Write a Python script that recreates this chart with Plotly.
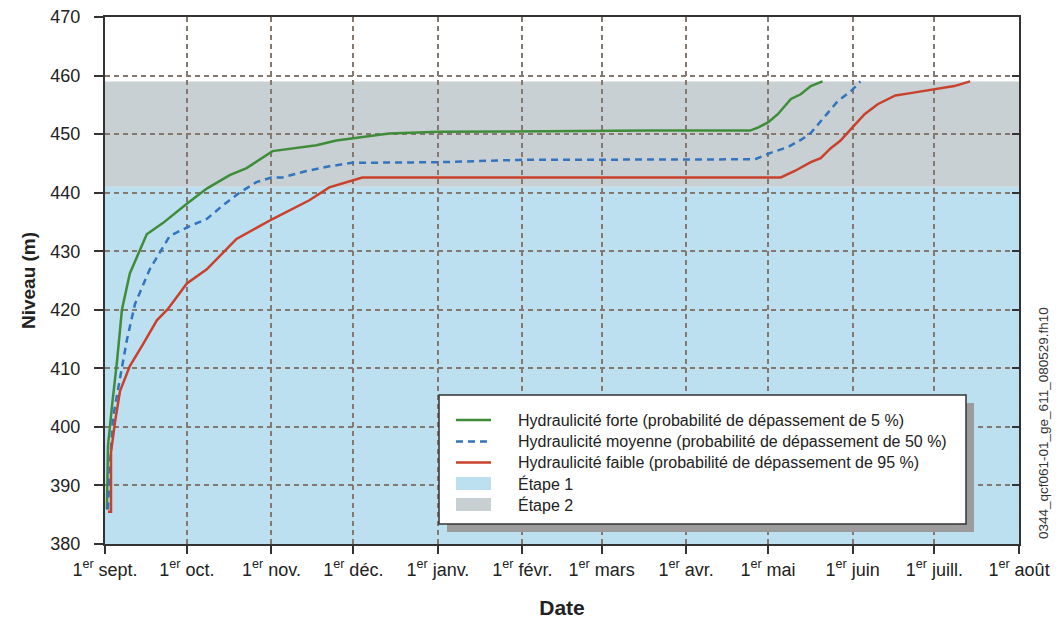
import pandas as pd
import plotly.graph_objects as go

# ---- data (days since 1 Sept, level in m) ----
start_date = "2007-09-01"

forte_days = [0.7, 1.1, 2.6, 4.4, 6.2, 9.1, 15.3, 21.2, 30, 37.3, 45.7, 51.9, 61.4, 70.2, 77.5,
              84.8, 92.1, 104.1, 122.4, 150, 200, 236.4, 239.3, 243, 246.6, 251.4, 255, 258.7, 262, 263]
forte_level = [385.9, 396.8, 403.7, 411.2, 420.0, 426.2, 432.9, 434.8, 438.1, 440.7, 443.0, 444.2,
               447.1, 447.6, 448.1, 448.9, 449.4, 450.1, 450.4, 450.5, 450.6, 450.6, 451.1, 452.0,
               453.4, 456.0, 456.8, 458.2, 458.9, 459.0]

moyenne_days = [1.1, 1.8, 2.9, 5.5, 8.0, 11, 16.4, 23.7, 31.1, 37.3, 43.1, 49.3, 55.5, 61, 65, 73.8,
                82.2, 90.6, 104.1, 122.4, 151.6, 200, 238.2, 244, 250.3, 255, 258.7, 263.8, 268.5,
                273.3, 276.9]
moyenne_level = [385.9, 393.3, 401.5, 408.4, 414.8, 421.0, 426.9, 432.6, 434.3, 435.5, 437.8, 440.0,
                 441.8, 442.6, 442.6, 443.7, 444.5, 445.1, 445.1, 445.2, 445.6, 445.7, 445.7, 446.8,
                 447.8, 449.0, 450.2, 453.0, 455.6, 457.3, 459.0]

faible_days = [1.1, 2.2, 2.2, 3.7, 5.5, 9.1, 13.9, 19, 23, 26.3, 30, 37.3, 48.2, 61.4, 74.9, 82.2,
               90.6, 94.3, 247.7, 252.8, 258.7, 262.3, 266, 269.6, 273.3, 278.4, 283.2, 289.7,
               295.2, 302.5, 311.3, 317.1]
faible_level = [385.5, 385.5, 395.7, 400.9, 406.1, 410.4, 414.1, 418.2, 420.1, 422.2, 424.5, 426.9,
                432.1, 435.5, 438.7, 440.9, 442.1, 442.6, 442.6, 443.7, 445.2, 445.9, 447.6, 448.9,
                450.8, 453.4, 455.1, 456.6, 457.0, 457.5, 458.2, 459.0]

etape1_range = [380, 441]
etape2_range = [441, 459]

month_ticks = ["2007-09-01", "2007-10-01", "2007-11-01", "2007-12-01", "2008-01-01", "2008-02-01",
               "2008-03-01", "2008-04-01", "2008-05-01", "2008-06-01", "2008-07-01", "2008-08-01"]
month_labels = ["sept.", "oct.", "nov.", "déc.", "janv.", "févr.", "mars", "avr.", "mai", "juin",
                "juill.", "août"]
y_ticks = [380, 390, 400, 410, 420, 430, 440, 450, 460, 470]

series_names = ["Hydraulicité forte (probabilité de dépassement de 5 %)",
                "Hydraulicité moyenne (probabilité de dépassement de 50 %)",
                "Hydraulicité faible (probabilité de dépassement de 95 %)"]
band_names = ["Étape 1", "Étape 2"]

# ---- helpers ----
base = pd.Timestamp(start_date)


def to_dates(days):
    return [base + pd.to_timedelta(d, unit="D") for d in days]


# plot area in pixels (for paper-coordinate placement of decorations)
L, R, T, B = 105, 41, 17, 79
W, H = 1060, 623
PW, PH = W - L - R, H - T - B


def px(x):
    return (x - L) / PW


def py(y):
    return (H - B - y) / PH


GREEN = "#3f8c3a"
BLUE = "#3473bd"
RED = "#c9412c"
BAND1 = "#bde0f1"
BAND2 = "#c8d0d3"
GRID = "#85796f"
FONT = "Liberation Sans, Arial, sans-serif"
BLUE_DASH = "7px,5px"

fig = go.Figure()

fig.add_trace(go.Scatter(x=to_dates(forte_days), y=forte_level, mode="lines",
                         name=series_names[0], line=dict(color=GREEN, width=2.5), showlegend=False))
fig.add_trace(go.Scatter(x=to_dates(moyenne_days), y=moyenne_level, mode="lines",
                         name=series_names[1], line=dict(color=BLUE, width=2.5, dash=BLUE_DASH),
                         showlegend=False))
fig.add_trace(go.Scatter(x=to_dates(faible_days), y=faible_level, mode="lines",
                         name=series_names[2], line=dict(color=RED, width=2.5), showlegend=False))
# invisible trace to activate the right-hand tick axis
fig.add_trace(go.Scatter(x=[None], y=[None], yaxis="y2", showlegend=False, hoverinfo="skip"))

shapes = [
    dict(type="rect", xref="x domain", yref="y", x0=0, x1=1, y0=etape1_range[0], y1=etape1_range[1],
         fillcolor=BAND1, line=dict(width=0), layer="below"),
    dict(type="rect", xref="x domain", yref="y", x0=0, x1=1, y0=etape2_range[0], y1=etape2_range[1],
         fillcolor=BAND2, line=dict(width=0), layer="below"),
    # legend shadow and box
    dict(type="rect", xref="paper", yref="paper", x0=px(447), x1=px(974), y0=py(532), y1=py(403),
         fillcolor="#9c9c9c", line=dict(width=0), layer="above"),
    dict(type="rect", xref="paper", yref="paper", x0=px(439), x1=px(966), y0=py(524), y1=py(395),
         fillcolor="white", line=dict(color="#333333", width=1.5), layer="above"),
]

annotations = []

# legend entries (drawn as keys + text inside the box)
row_y = [420, 441.5, 462.5, 483.5, 504.5]
key_x0, key_x1, text_x = 456, 491, 516
line_styles = [dict(color=GREEN, width=2.5), dict(color=BLUE, width=2.5, dash=BLUE_DASH),
               dict(color=RED, width=2.5)]
for i, name in enumerate(series_names):
    shapes.append(dict(type="line", xref="paper", yref="paper", x0=px(key_x0), x1=px(key_x1),
                       y0=py(row_y[i]), y1=py(row_y[i]), line=line_styles[i], layer="above"))
    annotations.append(dict(text=name, xref="paper", yref="paper", x=px(text_x), y=py(row_y[i]),
                            xanchor="left", yanchor="middle", showarrow=False,
                            font=dict(family=FONT, size=16, color="#222222")))
for j, (name, col) in enumerate(zip(band_names, [BAND1, BAND2])):
    r = row_y[3 + j]
    shapes.append(dict(type="rect", xref="paper", yref="paper", x0=px(key_x0), x1=px(key_x1),
                       y0=py(r + 6.5), y1=py(r - 6.5), fillcolor=col, line=dict(width=0),
                       layer="above"))
    annotations.append(dict(text=name, xref="paper", yref="paper", x=px(text_x), y=py(r),
                            xanchor="left", yanchor="middle", showarrow=False,
                            font=dict(family=FONT, size=16, color="#222222")))

annotations.append(dict(text="0344_qcf061-01_ge_611_080529.fh10", xref="paper", yref="paper",
                        x=px(1043), y=py(423), xanchor="center", yanchor="middle",
                        textangle=-90, showarrow=False,
                        font=dict(family=FONT, size=13.5, color="#333333")))

fig.update_layout(
    width=W, height=H,
    margin=dict(l=L, r=R, t=T, b=B, autoexpand=False),
    paper_bgcolor="white", plot_bgcolor="white",
    font=dict(family=FONT, size=18, color="#222222"),
    shapes=shapes,
    annotations=annotations,
    showlegend=False,
    xaxis=dict(type="date", range=[month_ticks[0], month_ticks[-1]], automargin=False,
               tickvals=month_ticks,
               ticktext=["1<sup>er</sup> " + m for m in month_labels],
               ticks="outside", ticklen=8, tickwidth=1.5, tickcolor="#333333",
               showline=True, linecolor="#333333", linewidth=2, mirror=True,
               showgrid=True, gridcolor=GRID, griddash="5px,4px", gridwidth=1.5,
               zeroline=False, tickfont=dict(size=18),
               title=dict(text="<b>Date</b>", font=dict(size=21), standoff=22)),
    yaxis=dict(range=[380, 470], tickvals=y_ticks, automargin=False,
               ticks="outside", ticklen=9, tickwidth=1.5, tickcolor="#333333",
               ticklabelstandoff=10,
               showline=True, linecolor="#333333", linewidth=2, mirror=True,
               showgrid=True, gridcolor=GRID, griddash="5px,4px", gridwidth=1.5,
               zeroline=False, tickfont=dict(size=18),
               title=dict(text="<b>Niveau (m)</b>", font=dict(size=19), standoff=10)),
    yaxis2=dict(range=[380, 470], tickvals=y_ticks, overlaying="y", side="right", anchor="x",
                automargin=False,
                ticks="inside", ticklen=7, tickwidth=1.5, tickcolor="#333333",
                showticklabels=False, showgrid=False, showline=False, zeroline=False),
)

fig.write_html("out.html")
